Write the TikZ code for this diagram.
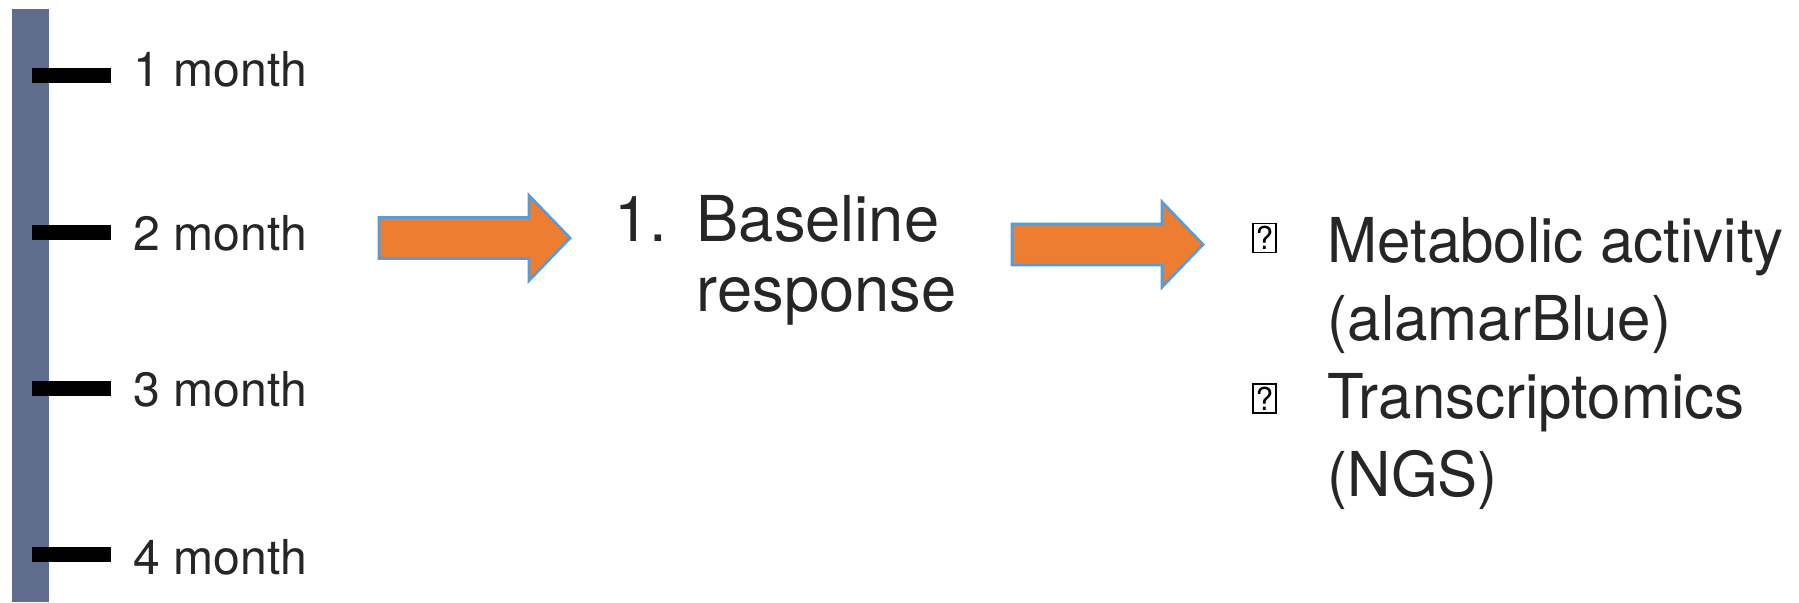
\documentclass[tikz,border=0pt]{standalone}
\usepackage{fontspec}
\setmainfont{TeX Gyre Heros}
\newfontfamily\itemfont[FakeStretch=0.97]{TeX Gyre Heros}
\usepackage{xcolor}
\usepackage{tikz}
\usetikzlibrary{positioning, calc}
\definecolor{tlBar}{HTML}{606C8C}
\definecolor{tlOrange}{HTML}{ED7D31}
\definecolor{tlEdge}{HTML}{5B9BD5}
\definecolor{tlText}{HTML}{262626}
\tikzset{
  fat arrow/.style={fill=tlOrange, draw=tlEdge, line width=0.8pt, line join=miter},
  month label/.style={anchor=west, inner sep=0pt, text=tlText, font=\fontsize{13.7}{16}\selectfont},
  step text/.style={anchor=base west, inner sep=0pt, text=tlText, font=\fontsize{18}{21}\selectfont},
  item text/.style={anchor=base west, inner sep=0pt, text=tlText, font=\itemfont\fontsize{17.6}{22}\selectfont},
  tofu/.style={draw=black, line width=0.5pt, minimum width=0.23cm, minimum height=0.29cm,
    inner sep=0pt, font=\fontsize{9}{9}\selectfont}
}
% block arrow: #1 = left end, #2 = centre height
\newcommand{\fatarrow}[2]{%
  \draw[fat arrow] (#1,#2) ++(0,0.205) -- ++(1.5,0) -- ++(0,0.22) -- ++(0.41,-0.425)
    -- ++(-0.41,-0.425) -- ++(0,0.22) -- ++(-1.5,0) -- cycle;}

\begin{document}
\begin{tikzpicture}
  \useasboundingbox (0,0) rectangle (17.99,-6.02);
  % time line
  \fill[tlBar] (0.115,-0.09) rectangle (0.49,-6.02);
  \foreach \m/\y/\t in {1/0.75/0.69, 2/2.32/2.33, 3/3.88/3.89, 4/5.54/5.57} {
    \draw[line width=0.15cm] (0.32,-\y) -- (1.11,-\y);
    \node[month label] (mon\m) at (1.33,-\t) {\m\ month};
  }
  % arrows
  \fatarrow{3.79}{-2.38}
  \fatarrow{10.12}{-2.445}
  % first step
  \node[step text] (num1) at (6.14,-2.41) {1.};
  \node[step text] (base1) at (6.96,-2.41) {Baseline};
  \node[step text] (base2) at ([yshift=-0.70cm]base1.base west) {response};
  % read-outs
  \node[tofu] (box1) at (12.645,-2.38) {?};
  \node[item text] (met1) at (13.27,-2.62) {Metabolic activity};
  \node[item text] (met2) at ([yshift=-0.78cm]met1.base west) {(alamarBlue)};
  \node[tofu] (box2) at (12.645,-3.985) {?};
  \node[item text] (tra1) at ([yshift=-0.78cm]met2.base west) {Transcriptomics};
  \node[item text] (tra2) at ([yshift=-0.78cm]tra1.base west) {(NGS)};
\end{tikzpicture}
\end{document}
